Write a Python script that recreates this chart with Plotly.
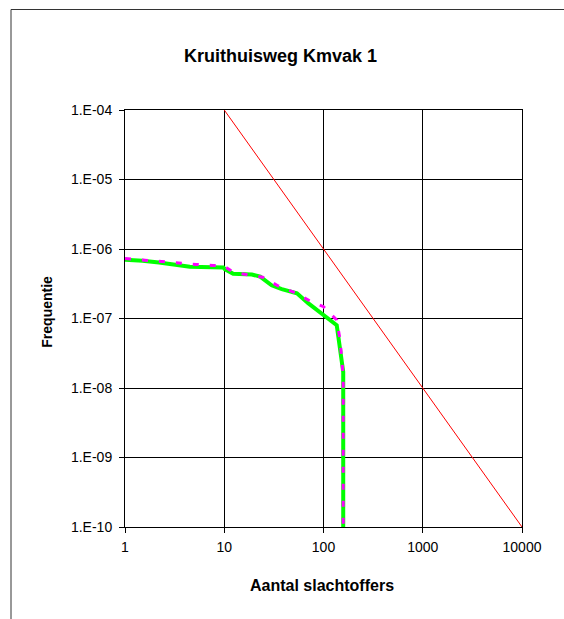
import plotly.graph_objects as go

# Data
x_ticks = [1, 10, 100, 1000, 10000]
x_ticktext = ["1", "10", "100", "1000", "10000"]
y_ticks = [1e-10, 1e-9, 1e-8, 1e-7, 1e-6, 1e-5, 1e-4]
y_ticktext = ["1.E-10", "1.E-09", "1.E-08", "1.E-07", "1.E-06", "1.E-05", "1.E-04"]

norm_n = [10, 100, 1000, 10000]
norm_f = [1e-4, 1e-6, 1e-8, 1e-10]

green_n = [1, 1.5, 2.2, 3.6, 4.5, 9.8, 10.2, 12.3, 19, 23, 30, 38, 54, 70, 92, 136, 158, 158]
green_f = [7.0e-7, 6.8e-7, 6.4e-7, 5.7e-7, 5.55e-7, 5.4e-7, 5.1e-7, 4.4e-7, 4.3e-7, 4.0e-7,
           3.0e-7, 2.65e-7, 2.3e-7, 1.66e-7, 1.21e-7, 8.0e-8, 1.7e-8, 1e-10]

mag_n = [1, 1.53, 2.3, 3.4, 5.2, 7.7, 9.7, 12.5, 15.9, 24.4, 35, 51.6, 73, 100, 136, 147, 158, 158]
mag_f = [7.3e-7, 6.9e-7, 6.6e-7, 6.2e-7, 6.0e-7, 5.8e-7, 5.8e-7, 4.6e-7, 4.33e-7, 3.92e-7,
         2.94e-7, 2.35e-7, 1.79e-7, 1.48e-7, 9.5e-8, 4.9e-8, 1.46e-8, 1e-10]

W, H = 564, 619
L, R, T, B = 125, 42, 110, 92
pw, ph = W - L - R, H - T - B

def px_x(px):
    return (px - L) / pw

def px_y(py):
    return (H - B - py) / ph

fig = go.Figure()
fig.add_trace(go.Scatter(x=norm_n, y=norm_f, mode="lines",
                         line=dict(color="#ff0000", width=1), showlegend=False))
fig.add_trace(go.Scatter(x=green_n, y=green_f, mode="lines",
                         line=dict(color="#00ff00", width=4), showlegend=False))
fig.add_trace(go.Scatter(x=mag_n, y=mag_f, mode="lines",
                         line=dict(color="#ff00ff", width=3, dash="6px,11px"), showlegend=False))

axis_common = dict(
    type="log", showgrid=True, gridcolor="#000000", gridwidth=1,
    showline=True, linecolor="#000000", linewidth=1, mirror=True,
    ticks="outside", ticklen=5, tickcolor="#000000",
    tickfont=dict(family="Liberation Sans, Arial, sans-serif", size=14, color="#000000"),
    zeroline=False,
)
fig.update_xaxes(range=[0, 4], tickvals=x_ticks, ticktext=x_ticktext,
                 ticklabelstandoff=2, **axis_common)
fig.update_yaxes(range=[-10, -4], tickvals=y_ticks, ticktext=y_ticktext,
                 ticklabelstandoff=4, **axis_common)

fig.update_layout(
    width=W, height=H, autosize=False,
    margin=dict(l=L, r=R, t=T, b=B),
    paper_bgcolor="#ffffff", plot_bgcolor="#ffffff",
    font=dict(family="Liberation Sans, Arial, sans-serif", color="#000000"),
    shapes=[dict(type="rect", xref="paper", yref="paper",
                 x0=px_x(11), x1=px_x(620), y0=px_y(640), y1=px_y(9.5),
                 line=dict(color="#333333", width=1), layer="below")],
    annotations=[
        dict(text="<b>Kruithuisweg Kmvak 1</b>", xref="paper", yref="paper",
             x=px_x(280), y=px_y(55.6), xanchor="center", yanchor="middle",
             showarrow=False, font=dict(size=18)),
        dict(text="<b>Aantal slachtoffers</b>", xref="paper", yref="paper",
             x=px_x(322), y=px_y(585), xanchor="center", yanchor="middle",
             showarrow=False, font=dict(size=16)),
        dict(text="<b>Frequentie</b>", xref="paper", yref="paper",
             x=px_x(46.7), y=px_y(312), xanchor="center", yanchor="middle",
             textangle=-90, showarrow=False, font=dict(size=14)),
    ],
)

fig.write_html("out.html")
